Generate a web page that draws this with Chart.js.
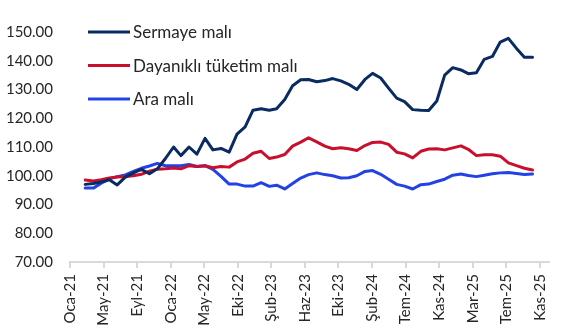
<!DOCTYPE html>
<html>
<head>
<meta charset="utf-8">
<script src="https://cdn.jsdelivr.net/npm/chart.js@4.4.1/dist/chart.umd.min.js"></script>
<style>
  html, body { margin: 0; padding: 0; background: #fff; }
  #wrap { width: 564px; height: 333px; }
</style>
</head>
<body>
<div id="wrap"><canvas id="chart"></canvas></div>
<script>
// monthly observations (end of month)
const months = [
    '2021-02', '2021-03', '2021-04', '2021-05', '2021-06', '2021-07', '2021-08', '2021-09', '2021-10', '2021-11', '2021-12',
    '2022-01', '2022-02', '2022-03', '2022-04', '2022-05', '2022-06', '2022-07', '2022-08', '2022-09', '2022-10', '2022-11', '2022-12',
    '2023-01', '2023-02', '2023-03', '2023-04', '2023-05', '2023-06', '2023-07', '2023-08', '2023-09', '2023-10', '2023-11', '2023-12',
    '2024-01', '2024-02', '2024-03', '2024-04', '2024-05', '2024-06', '2024-07', '2024-08', '2024-09', '2024-10', '2024-11', '2024-12',
    '2025-01', '2025-02', '2025-03', '2025-04', '2025-05', '2025-06', '2025-07', '2025-08', '2025-09', '2025-10'
];

const sermaye = [
    97.0, 97.3, 97.8, 98.6, 96.8, 99.5, 101.0, 102.2, 100.7, 102.4, 106.0,
    110.0, 107.0, 110.0, 107.5, 113.0, 109.0, 109.5, 108.2, 114.5, 117.0, 122.8, 123.3,
    122.8, 123.3, 126.5, 131.3, 133.4, 133.5, 132.7, 133.1, 133.8, 133.0, 131.8, 130.0,
    133.5, 135.6, 134.0, 130.5, 127.0, 125.8, 123.0, 122.8, 122.7, 126.0, 135.0, 137.6,
    136.8, 135.5, 135.8, 140.5, 141.5, 146.5, 147.8, 144.3, 141.2, 141.2
];

const dayanikli = [
    98.5, 98.2, 98.6, 99.2, 99.6, 99.7, 100.0, 100.5, 101.6, 102.3, 102.4,
    102.7, 102.4, 103.5, 103.2, 103.5, 102.8, 103.2, 103.0, 104.8, 105.8, 107.8, 108.5,
    106.0, 106.5, 107.4, 110.3, 111.7, 113.2, 111.8, 110.3, 109.4, 109.7, 109.4, 108.8,
    110.5, 111.6, 111.7, 110.9, 108.2, 107.6, 106.2, 108.5, 109.3, 109.4, 109.0, 109.7,
    110.4, 109.2, 107.0, 107.3, 107.3, 106.8, 104.5, 103.5, 102.6, 102.0
];

const araMali = [
    95.7, 95.7, 97.4, 98.9, 99.7, 100.3, 101.5, 102.6, 103.4, 104.3, 103.5,
    103.5, 103.5, 103.9, 103.2, 103.5, 102.2, 99.8, 97.1, 97.1, 96.4, 96.4, 97.6,
    96.3, 96.7, 95.4, 97.3, 99.2, 100.4, 101.0, 100.4, 100.0, 99.2, 99.3, 100.0,
    101.5, 101.8, 100.5, 98.8, 97.0, 96.4, 95.4, 96.9, 97.1, 98.0, 98.8, 100.2,
    100.6, 100.1, 99.7, 100.2, 100.7, 101.0, 101.1, 100.8, 100.4, 100.6
];

const seriesNames = ['Sermaye malı', 'Dayanıklı tüketim malı', 'Ara malı'];
const tickLabels = ['Oca-21', 'May-21', 'Eyl-21', 'Oca-22', 'May-22', 'Eki-22', 'Şub-23', 'Haz-23',
    'Eki-23', 'Şub-24', 'Tem-24', 'Kas-24', 'Mar-25', 'Tem-25', 'Kas-25'];

// date axis: days since 1 Jan 2021, Excel-like major unit
const ORIGIN = Date.UTC(2021, 0, 1);
const DAY = 86400000;
const TICK_STEP = 128;
const AXIS_MAX = 1826;

function dayOf(key) {
    let [y, m] = key.split('-').map(Number);
    // day 0 of next month = last day of this month
    return Math.round((Date.UTC(y, m, 0) - ORIGIN) / DAY);
}

function toPoints(values) {
    return values.map((v, i) => ({x: dayOf(months[i]), y: v}));
}

const FONT = 'Lato, "Liberation Sans", sans-serif';
const TEXT = '#262626';
const colors = ['#0a2a62', '#c8102e', '#2342e6'];

// legend drawn inside the plot, top left
const insideLegend = {
    id: 'insideLegend',
    afterDraw(chart) {
        let ctx = chart.ctx;
        ctx.save();
        ctx.font = '17px ' + FONT;
        ctx.textBaseline = 'middle';
        ctx.textAlign = 'left';
        chart.data.datasets.forEach((ds, i) => {
            let y = 32 + i * 33.5;
            ctx.strokeStyle = ds.borderColor;
            ctx.lineWidth = 3;
            ctx.beginPath();
            ctx.moveTo(88, y);
            ctx.lineTo(130, y);
            ctx.stroke();
            ctx.fillStyle = TEXT;
            ctx.fillText(ds.label, 133, y + 1);
        });
        ctx.restore();
    }
};

const datasets = [sermaye, dayanikli, araMali].map((vals, i) => ({
    label: seriesNames[i],
    data: toPoints(vals),
    borderColor: colors[i],
    backgroundColor: colors[i],
    borderWidth: 3,
    pointRadius: 0,
    tension: 0,
    borderJoinStyle: 'round',
    borderCapStyle: 'round'
}));

new Chart(document.getElementById('chart'), {
    type: 'line',
    data: {datasets: datasets},
    options: {
        responsive: true,
        maintainAspectRatio: false,
        animation: false,
        layout: {padding: {top: 32, right: 8, left: 0, bottom: 0}},
        plugins: {
            legend: {display: false},
            tooltip: {enabled: false}
        },
        scales: {
            x: {
                type: 'linear',
                min: 0,
                max: AXIS_MAX,
                afterBuildTicks: (scale) => {
                    scale.ticks = tickLabels.map((_, k) => ({value: k * TICK_STEP}));
                },
                afterFit: (scale) => { scale.height = 71; },
                grid: {
                    drawOnChartArea: false,
                    drawTicks: true,
                    tickLength: 6,
                    color: '#d9d9d9',
                    lineWidth: 2
                },
                border: {display: true, color: '#d9d9d9', width: 2},
                ticks: {
                    autoSkip: false,
                    maxRotation: 90,
                    minRotation: 90,
                    padding: 6,
                    color: TEXT,
                    font: {family: FONT, size: 15},
                    callback: (value, index) => tickLabels[index]
                }
            },
            y: {
                min: 70,
                max: 150,
                afterFit: (scale) => { scale.width = 70; },
                grid: {display: false, drawTicks: false},
                border: {display: false},
                ticks: {
                    stepSize: 10,
                    padding: 17,
                    color: TEXT,
                    font: {family: FONT, size: 15},
                    callback: (v) => v.toFixed(2)
                }
            }
        }
    },
    plugins: [insideLegend]
});
</script>
</body>
</html>
